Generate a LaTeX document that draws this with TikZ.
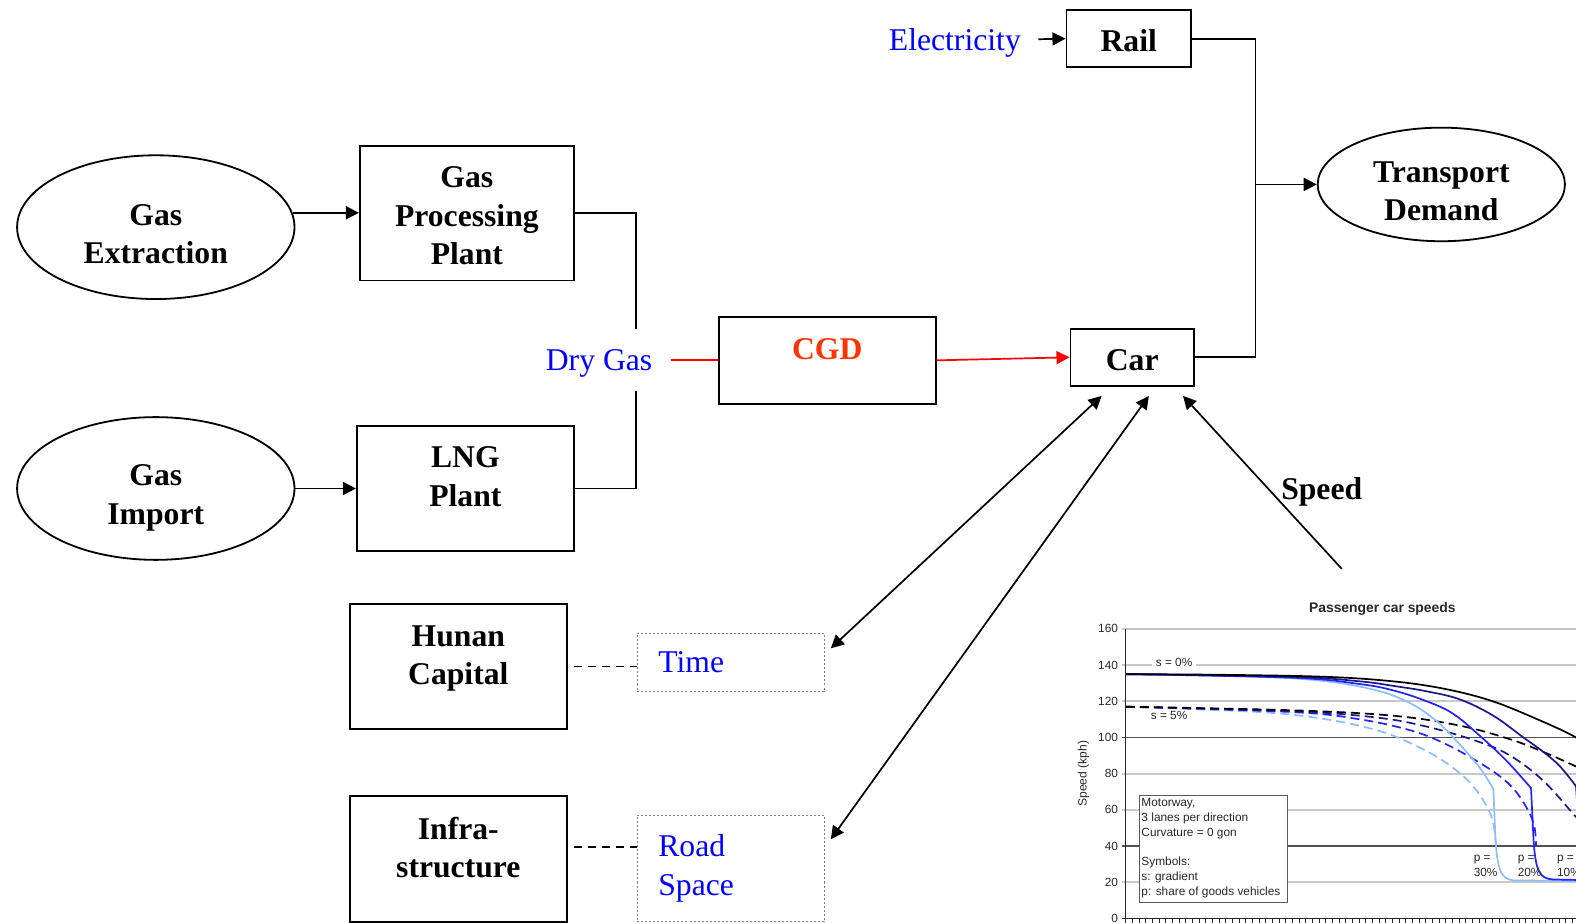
\documentclass[tikz,border=0pt]{standalone}
\usepackage{fontspec}
\setmainfont{Liberation Serif}
\setsansfont{Liberation Sans}
\usetikzlibrary{shapes.geometric,arrows.meta}
\newcommand\mainsz{\fontsize{15.75}{19}\selectfont}
\newcommand\chartsz{\fontsize{5.9}{7.3}\selectfont\sffamily}
\definecolor{cgdred}{RGB}{255,51,0}
\definecolor{navyc}{RGB}{25,25,140}
\definecolor{bluec}{RGB}{35,35,255}
\definecolor{lightc}{RGB}{140,190,255}
\definecolor{gridl}{RGB}{200,200,200}
\definecolor{gridd}{RGB}{80,80,80}
\definecolor{charttxt}{RGB}{40,40,40}
\begin{document}
\begin{tikzpicture}[x=0.5pt,y=-0.5pt,
 box/.style={draw,line width=0.9pt,inner sep=0pt,align=center,text depth=0pt,font=\mainsz\bfseries},
 ell/.style={ellipse,draw,line width=0.9pt,inner sep=0pt},
 txt/.style={inner sep=0pt,align=center,text depth=0pt,font=\mainsz\bfseries},
 bluetxt/.style={inner sep=0pt,text depth=0pt,font=\mainsz,text=blue},
 dotbox/.style={draw=gray,dash pattern=on 1pt off 1pt,line width=0.6pt,inner xsep=10.5pt,inner ysep=0pt,text width=72pt,align=left,font=\mainsz,text=blue},
 conn/.style={line width=0.85pt},
 arr/.style={line width=0.85pt,-{Triangle[length=6.5pt,width=6.5pt]}},
 darr/.style={line width=0.85pt,{Triangle[length=6.5pt,width=6.5pt]}-{Triangle[length=6.5pt,width=6.5pt]}},
 dashconn/.style={line width=0.85pt,dash pattern=on 4pt off 3pt},
 gridline/.style={line width=0.9pt,draw=gridl},
 gridlinedark/.style={line width=0.9pt,draw=gridd},
 curve/.style={line width=0.85pt},
 dcurve/.style={line width=0.85pt,dash pattern=on 4.5pt off 2.5pt},
 ctext/.style={font=\chartsz,text=charttxt,inner sep=0pt},
 ]
\useasboundingbox (0,0) rectangle (1568,918);

% ---- nodes ----
\node[ell,minimum width=138pt,minimum height=71.5pt] (ext) at (155,226) {};
\node[txt] (extt) at (155,233) {Gas\\Extraction};
\node[ell,minimum width=138pt,minimum height=71pt] (imp) at (155,486) {};
\node[txt] (impt) at (155,492) {Gas\\Import};
\node[box,minimum width=106.5pt,minimum height=67pt] (gpp) at (464.5,212) {};
\node[txt] (gppt) at (464.5,214.5) {Gas\\Processing\\Plant};
\node[box,minimum width=108pt,minimum height=62pt] (lng) at (463,486) {};
\node[txt] (lngt) at (463,474) {LNG\\Plant};
\node[bluetxt,inner xsep=9pt,minimum height=30.5pt] (dg) at (596,358) {Dry Gas};
\node[box,minimum width=108pt,minimum height=43.5pt] (cgd) at (823,358.5) {};
\node[txt,text=cgdred] (cgdt) at (823,347) {CGD};
\node[box,minimum width=61.5pt,minimum height=28.5pt] (car) at (1126.5,355.5) {};
\node[txt] (cart) at (1126.5,358.5) {Car};
\node[box,minimum width=62pt,minimum height=28.5pt] (rail) at (1123,38.5) {};
\node[txt] (railt) at (1123,40.5) {Rail};
\node[bluetxt,inner xsep=8.5pt] (elec) at (950,39) {Electricity};
\node[ell,minimum width=123pt,minimum height=56.5pt] (td) at (1434,183.5) {};
\node[txt] (tdt) at (1434,190) {Transport\\Demand};
\node[box,minimum width=108pt,minimum height=62pt] (hc) at (456,663) {};
\node[txt] (hct) at (456,651.5) {Hunan\\Capital};
\node[box,minimum width=108pt,minimum height=62.5pt] (inf) at (456,854.5) {};
\node[txt] (inft) at (456,843) {Infra-\\structure};
\node[dotbox,minimum height=29pt] (time) at (727,659) {Time};
\node[dotbox,minimum height=53pt] (road) at (727,864) {Road\\Space};
\node[txt] (speed) at (1315,486) {Speed};

% ---- connectors ----
\draw[arr] (ext.6) -- (ext.6 -| gpp.west);
\draw[arr] (imp.east) -- (lng.west);
\coordinate (dgx) at (633,359);
\draw[conn] (gpp.east) -| (dgx |- dg.north);
\draw[conn] (lng.east) -| (dgx |- dg.south);
\draw[conn,red] (dg.east) -- (dg.east -| cgd.west);
\draw[arr,red] (cgd.east) -- (car.west);
\draw[arr] (elec.east) -- (rail.west);
\coordinate (jr) at (1249,183.5);
\draw[conn] (rail.east) -| (jr) |- (car.east);
\draw[arr] (jr) -- (td.west);
\coordinate (hcd) at ([xshift=3pt]hc.east);
\draw[dashconn] (hcd) -- (hcd -| time.west);
\coordinate (infd) at ([shift={(3pt,5.75pt)}]inf.east);
\draw[dashconn] (infd) -- (infd -| road.west);
\draw[darr] ([shift={(3pt,7pt)}]time.east) -- ([shift={(-15.25pt,-4.5pt)}]car.south);
\draw[darr] ([shift={(3pt,14.5pt)}]road.east) -- ([shift={(8.25pt,-4.5pt)}]car.south);
\coordinate (spsrc) at (1335,566);
\draw[arr] (spsrc) -- ([shift={(25.25pt,-4.5pt)}]car.south);

% ---- chart ----
\begin{scope}
\clip (1000,570) rectangle (1568,918);
\node[font=\fontsize{6.9}{8}\selectfont\sffamily\bfseries,text=charttxt,inner sep=0pt] (title) at (1375.3,606.2) {Passenger car speeds};
\node[ctext,rotate=90,font=\fontsize{6}{7}\selectfont\sffamily] (ylab) at (1078,769.7) {Speed (kph)};
\begin{scope}[shift={(1054.7,913.7)},xscale=0.3316,yscale=-1.8]
 \foreach \v in {20,60,80,120,140,160} \draw[gridline] (185,\v) -- (1620,\v);
 \foreach \v in {40,100} \draw[gridlinedark] (185,\v) -- (1620,\v);
 \draw[line width=0.6pt,charttxt] (185,0) -- (1620,0);
 \foreach \x in {197,217,...,1620} \draw[line width=0.4pt,charttxt] (\x,0) -- (\x,-3);
 \draw[line width=0.7pt,charttxt] (197,0) -- (197,160);
 \foreach \v in {0,20,...,160} \node[ctext,anchor=east] at (175,\v) {\v};
 % legend
 \draw[draw=gray!70!black,fill=white,line width=0.5pt] (237,67.8) rectangle (683,8.85);
 \node[ctext,anchor=north west,align=left] (leg) at (243,66.3) {Motorway,\\3 lanes per direction\\Curvature = 0 gon\\[7.3pt]Symbols:\\s: gradient\\p: share of goods vehicles};
 % dashed curves (s = 5%)
 \draw[dcurve,lightc] plot[smooth,tension=0.6] coordinates {(197,117) (600,114) (800,110) (950,104) (1050,97) (1150,87) (1230,75) (1280,62) (1300,52) (1308,40)};
 \draw[dcurve,bluec] plot[smooth,tension=0.6] coordinates {(197,117) (700,114) (900,110) (1050,104) (1150,97) (1250,87) (1330,77) (1380,67) (1420,53) (1428,40)};
 \draw[dcurve,navyc] plot[smooth,tension=0.6] coordinates {(197,117) (700,114.5) (950,111) (1100,106) (1250,98) (1350,90) (1450,76) (1548,56) (1600,45)};
 \draw[dcurve,black] plot[smooth,tension=0.6] coordinates {(197,117) (700,115) (1000,112) (1200,106.5) (1350,99) (1450,92) (1548,84) (1620,78)};
 % solid curves (s = 0%)
 \draw[curve,lightc] plot[smooth,tension=0.6] coordinates {(197,135) (600,133.5) (800,131) (950,126) (1050,119) (1130,109) (1200,96) (1260,83) (1300,71.5)} -- (1306,45) .. controls (1312,25) and (1325,22) .. (1360,21) -- (1620,20.5);
 \draw[curve,bluec] plot[smooth,tension=0.6] coordinates {(197,135) (700,133) (900,129.5) (1000,126) (1100,120) (1180,113) (1265,100) (1340,87) (1413,72)} -- (1420,45) .. controls (1426,25) and (1440,22) .. (1480,21.5) -- (1620,21);
 \draw[curve,navyc] plot[smooth,tension=0.6] coordinates {(197,135) (700,133.5) (900,131) (1000,128.5) (1100,125.5) (1200,121) (1300,112) (1390,100) (1450,92) (1500,84) (1548,73)} -- (1556,50) .. controls (1562,28) and (1570,22) .. (1600,21.5);
 \draw[curve,black] plot[smooth,tension=0.6] coordinates {(197,135) (500,134.6) (800,133.5) (1000,131) (1150,127) (1290,120.5) (1420,111) (1548,100) (1620,90)};
 % labels
 \node[ctext,fill=white,inner xsep=2pt,inner ysep=1pt] (s0) at (342,141.4) {s = 0\%};
 \node[ctext] (s5) at (327,112) {s = 5\%};
 \node[ctext,anchor=west,align=left] (p30) at (1240,29) {p =\\30\%};
 \node[ctext,anchor=west,align=left] (p20) at (1372,29) {p =\\20\%};
 \node[ctext,anchor=west,align=left] (p10) at (1490,29) {p =\\10\%};
\end{scope}
\end{scope}
\end{tikzpicture}
\end{document}
